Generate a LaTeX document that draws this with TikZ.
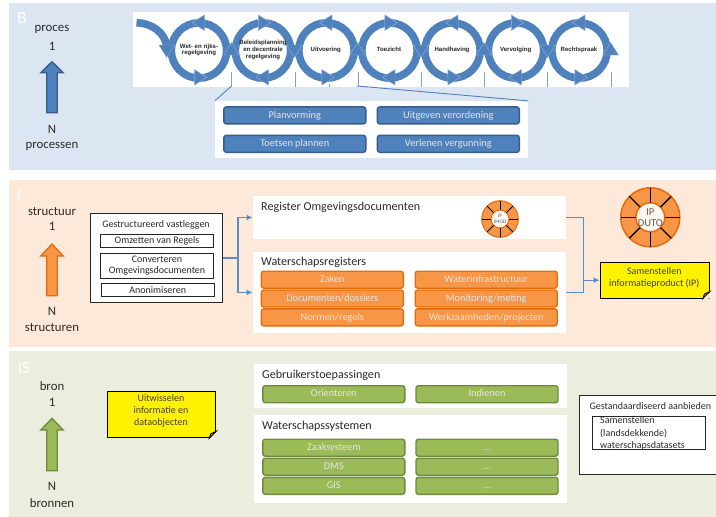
\documentclass[tikz,border=0pt]{standalone}
\usepackage{fontspec}
\setmainfont{Carlito}
\newfontfamily\arialf{Liberation Sans}
\definecolor{panB}{HTML}{DCE6F2}
\definecolor{panI}{HTML}{FDE9D9}
\definecolor{panS}{HTML}{EBEEDF}
\definecolor{blueF}{HTML}{4F81BD}
\definecolor{blueD}{HTML}{385D8A}
\definecolor{orangeF}{HTML}{F79646}
\definecolor{orangeD}{HTML}{E46C0A}
\definecolor{greenF}{HTML}{9BBB59}
\definecolor{greenD}{HTML}{71893F}
\definecolor{linkC}{HTML}{5B8CC8}
\definecolor{inkC}{HTML}{2A2A2A}
\tikzset{
  x=1pt,y=-1pt,
  panel/.style={draw=none,minimum width=707,minimum height=167,inner sep=0},
  whitebox/.style={fill=white,draw=none,inner sep=0},
  sideT/.style={text=inkC,font=\fontsize{12.8}{15}\selectfont,inner sep=0},
  panelT/.style={text=white,font=\fontsize{17}{18}\selectfont,inner sep=0},
  headT/.style={text=inkC,font=\fontsize{12.1}{15}\selectfont,inner sep=0,anchor=west,text height=9pt,text depth=3pt},
  btn/.style={rounded corners=2.5pt,line width=1.4pt,minimum width=142,minimum height=17,inner sep=0,text=white!90!black,
     font=\fontsize{10.3}{13}\selectfont,text height=7.5pt,text depth=2pt},
  btnB/.style={btn,fill=blueF,draw=blueD},
  btnO/.style={btn,fill=orangeF,draw=orangeD},
  btnG/.style={btn,fill=greenF,draw=greenD},
  framebox/.style={fill=white,draw=black!85,line width=1.1pt,inner sep=0},
  innerT/.style={text=inkC,font=\fontsize{10}{12}\selectfont,inner sep=0},
  ringT/.style={font=\arialf\bfseries\fontsize{6.1}{6.7}\selectfont,text=black!85,align=center,inner sep=0},
  note/.style={fill=yellow,draw=black,line width=1pt,inner sep=0},
  noteT/.style={text=black!85!yellow,font=\fontsize{10}{11.9}\selectfont,align=center,inner sep=0},
  conn/.style={draw=linkC,line width=1.1pt},
  arrowed/.style={-{Latex[length=6pt,width=6pt]}},
  ringline/.style={draw=blueF,line width=7.6pt},
  headS/.style={fill=blueF,draw=white!40!blueF,line width=.4pt,line join=miter},
  tickL/.style={draw=linkC!80!white,line width=.8pt},
  callL/.style={draw=blueF,line width=.9pt},
}
\usetikzlibrary{arrows.meta,calc}
\newcommand{\bighead}[3]{\begin{scope}[shift={(#1,#2)},rotate=#3]
  \path[headS] (0,0) -- (-12.5,7.8) -- (-12.5,-7.8) -- cycle;\end{scope}}
\newcommand{\uparrowshape}[5]{%
  \path[fill=#4,draw=#5,line width=1.3pt,line join=miter]
  (52,#1) -- (63.2,#2) -- (57.3,#2) -- (57.3,#3) -- (46.7,#3) -- (46.7,#2) -- (40.8,#2) -- cycle;}
\newcommand{\ipwheel}[4]{%
  \path[fill=orangeF,draw=orangeD,line width=#4] (#1,#2) circle (#3);
  \path[fill=white!92!orangeF,draw=orangeD,line width=#4] (#1,#2) circle (#3*0.49);
  \foreach \a in {0,45,...,315}{
    \draw[black,line width=#4*0.85] ($(#1,#2)+(\a:#3*0.49)$) -- ($(#1,#2)+(\a:#3)$);}}
\begin{document}
\begin{tikzpicture}
\useasboundingbox (0,0) rectangle (716,517);
\clip (0,0) rectangle (716,517);
\fill[white] (0,0) rectangle (716,517);
% panels
\node[panel,fill=panB] (panelB) at (362.5,86.5) {};
\node[panel,fill=panI] (panelI) at (362.5,263.5) {};
\node[panel,fill=panS] (panelS) at (362.5,434.5) {};
\node[panelT] (lblB) at (22,18) {B};
\node[panelT] (lblI) at (19.5,195.5) {I};
\node[panelT] (lblS) at (24,368) {IS};
% side texts and arrows
\node[sideT] (procA) at (52,29) {proces};
\node[sideT] (procB) at (52,46) {1};
\node[sideT] (procC) at (52,129) {N};
\node[sideT] (procD) at (52,146) {processen};
\uparrowshape{61.7}{72.7}{112.7}{blueF}{blueD}
\node[sideT] (strA) at (52,211) {structuur};
\node[sideT] (strB) at (52,226.7) {1};
\node[sideT] (strC) at (52,311) {N};
\node[sideT] (strD) at (52,327.7) {structuren};
\uparrowshape{244}{256}{295.7}{orangeF}{orangeD}
\node[sideT] (brA) at (52,386) {bron};
\node[sideT] (brB) at (52,402.7) {1};
\node[sideT] (brC) at (52,486) {N};
\node[sideT] (brD) at (52,502.7) {bronnen};
\uparrowshape{418.3}{430}{470.7}{greenF}{greenD}
% process strip
\node[whitebox,minimum width=496,minimum height=75] (strip) at (381,49.5) {};
\coordinate (t1) at (231,86.5);
\coordinate (t3) at (357,86);
\foreach \x in {231,295,358,421,484,547.5,611}{
  \draw[tickL] (\x,72) -- (\x,86.5);}
\draw[tickL] (329.5,83.5) -- (329.5,86.5);
\foreach \x in {199,263,326.5,389.5,452.5,516,579.5}{
  \draw[ringline] (\x,50.5) circle (27.7);}
\draw[ringline] (136.5,22.7) .. controls (152,23) and (165,33) .. (166.7,46);
\bighead{166.7}{57.5}{270}
\foreach \x in {231.5,357.5,484,610.7}{\bighead{\x}{42.5}{90}}
\foreach \x in {294.5,421,547.7}{\bighead{\x}{57.5}{270}}
\foreach \x in {199,326.5,452.5,579.5}{\bighead{\x-7}{22.7}{180}\bighead{\x+7.8}{77.3}{0}}
\foreach \x in {263,389.5,516}{\bighead{\x+7.8}{22.7}{0}\bighead{\x-7}{77.3}{180}}
\node[ringT] (r1) at (199,50) {Wet- en rijks-\\regelgeving};
\node[ringT] (r2) at (263,50) {Beleidsplanning\\en decentrale\\regelgeving};
\node[ringT] (r3) at (325.7,49.7) {Uitvoering};
\node[ringT] (r4) at (389,49.7) {Toezicht};
\node[ringT] (r5) at (452,49.7) {Handhaving};
\node[ringT] (r6) at (515.7,49.7) {Vervolging};
\node[ringT] (r7) at (579,49.7) {Rechtspraak};
% callout
\node[whitebox,minimum width=313,minimum height=56.7] (pbox) at (371.5,129.4) {};
\draw[callL] (t1) -- (pbox.north west);
\draw[callL] (t3) -- (pbox.north east);
\node[btnB] (b1) at (294.8,115.4) {Planvorming};
\node[btnB] (b2) at (448.3,115.4) {Uitgeven verordening};
\node[btnB] (b3) at (294.8,143.8) {Toetsen plannen};
\node[btnB] (b4) at (448.3,143.8) {Verlenen vergunning};
% structure panel
\node[framebox,minimum width=132,minimum height=88.6] (gest) at (156.7,258) {};
\node[innerT] (gestT) at (156,225) {Gestructureerd vastleggen};
\node[framebox,minimum width=112.6,minimum height=13,text=inkC,font=\fontsize{10}{12}\selectfont] (om) at (157,241.2) {Omzetten van Regels};
\node[framebox,minimum width=112.6,minimum height=24.7,align=center,font=\fontsize{10}{11.6}\selectfont,text=inkC] (conv) at (157,265.7) {Converteren\\Omgevingsdocumenten};
\node[framebox,minimum width=113.3,minimum height=13,text=inkC,font=\fontsize{10}{12}\selectfont] (ano) at (157.7,290.2) {Anonimiseren};
\node[whitebox,minimum width=313,minimum height=43] (reg) at (409.2,217.5) {};
\node[headT] (regT) at (261,207.7) {Register Omgevingsdocumenten};
\node[whitebox,minimum width=313,minimum height=80.7] (wat) at (409.2,292.4) {};
\node[headT] (watT) at (261,262.7) {Waterschapsregisters};
\node[btnO] (o1) at (332.3,279.7) {Zaken};
\node[btnO] (o2) at (332.3,298.5) {Documenten/dossiers};
\node[btnO] (o3) at (332.3,317.3) {Normen/regels};
\node[btnO] (o4) at (486.2,279.7) {Waterinfrastructuur};
\node[btnO] (o5) at (486.2,298.5) {Monitoring/meting};
\node[btnO] (o6) at (486.2,317.3) {Werkzaamheden/projecten};
\ipwheel{500}{219}{18.3}{1pt}
\node[inner sep=0,text=black!60,align=center,font=\fontsize{5.2}{6.6}\selectfont] (imod) at (500,219) {IP\\IMOD};
\ipwheel{650.3}{217.3}{29.5}{1.5pt}
\node[inner sep=0,text=black!65,align=center,font=\fontsize{10.5}{11.6}\selectfont] (duto) at (650.3,217.5) {IP\\DUTO};
\node[note,minimum width=109.3,minimum height=35.7] (samen) at (654.7,280.2) {};
\node[noteT] (samenT) at (654.3,278) {Samenstellen\\informatieproduct (IP)};
\coordinate (j1) at (238,258);
\coordinate (j2) at (583.3,280.2);
\draw[conn] (gest.east) -- (j1);
\draw[conn,arrowed] (j1) |- (reg.west);
\draw[conn,arrowed] (j1) |- (wat.west);
\draw[conn] (reg.east) -| (j2);
\draw[conn] (wat.east) -| (j2);
\draw[conn,arrowed] (j2) -- (samen.west);
% IS panel
\node[note,minimum width=108.4,minimum height=46.7] (uit) at (161.5,414.4) {};
\node[noteT] (uitT) at (161,410.7) {Uitwisselen\\informatie en\\dataobjecten};
\foreach \n/\p in {samen/panI,uit/panS}{
  \path[fill=\p] (\n.south east) -- ++(-7,0.6) -- ++(7.6,-7.6) -- cycle;
  \path[fill=yellow!60!black,draw=black,line width=.8pt] ($(\n.south east)+(-7,0)$) -- ($(\n.south east)+(0,-7)$) -- ($(\n.south east)+(-5.5,-4.5)$) -- cycle;}
\node[whitebox,minimum width=313,minimum height=43.7] (geb) at (410.5,385.9) {};
\node[headT] (gebT) at (262,375.7) {Gebruikerstoepassingen};
\node[btnG] (g1) at (333.8,394.2) {Orienteren};
\node[btnG] (g2) at (487,394.2) {Indienen};
\node[whitebox,minimum width=313,minimum height=87.7] (sys) at (410.5,458.9) {};
\node[headT] (sysT) at (262,426.7) {Waterschapssystemen};
\node[btnG] (g3) at (333.8,447.7) {Zaaksysteem};
\node[btnG] (g4) at (333.8,466.7) {DMS};
\node[btnG] (g5) at (333.8,485.8) {GIS};
\node[btnG] (g6) at (487,447.7) {...};
\node[btnG] (g7) at (487,466.7) {...};
\node[btnG] (g8) at (487,485.8) {...};
\node[framebox,minimum width=140,minimum height=79.7] (aan) at (649.3,434.9) {};
\node[innerT,anchor=west] (aanT) at (589.3,405.7) {Gestandaardiseerd aanbieden};
\node[framebox,minimum width=112.7,minimum height=33.7] (sam) at (648.7,432.9) {};
\node[innerT,anchor=west,align=left,font=\fontsize{10}{12.2}\selectfont] (samT) at (600,433.4) {Samenstellen\\(landsdekkende)\\waterschapsdatasets};
\end{tikzpicture}
\end{document}
